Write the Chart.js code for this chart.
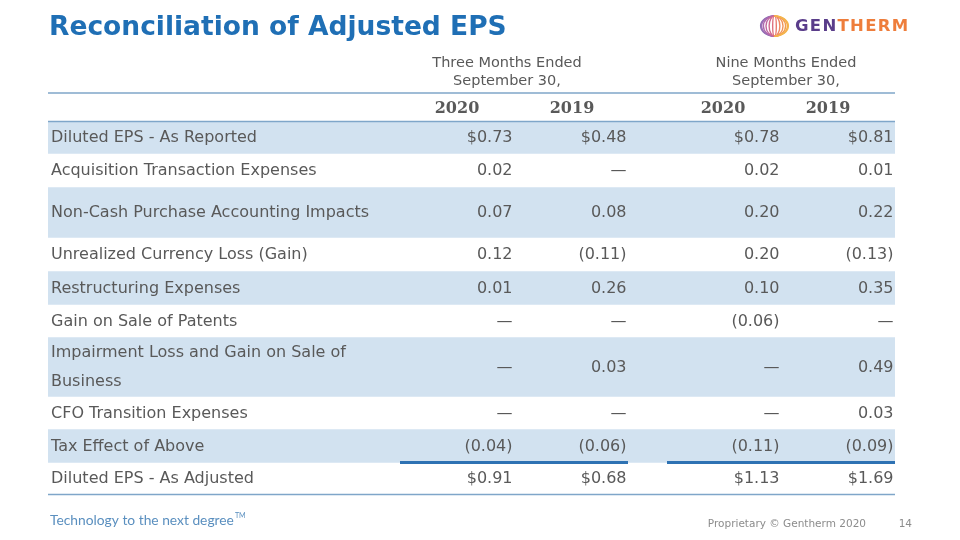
<!DOCTYPE html>
<html>
<head>
<meta charset="utf-8">
<title>Reconciliation of Adjusted EPS</title>
<script src="https://cdn.jsdelivr.net/npm/chart.js@4.4.1/dist/chart.umd.min.js"></script>
<style>
  html, body { margin: 0; padding: 0; background: #fff; }
  #eps { display: block; }
</style>
</head>
<body>
<canvas id="eps" width="960" height="540"></canvas>
<script>
// table rows, top to bottom
const rowLabels = [
  'Diluted EPS - As Reported',
  'Acquisition Transaction Expenses',
  'Non-Cash Purchase Accounting Impacts',
  'Unrealized Currency Loss (Gain)',
  'Restructuring Expenses',
  'Gain on Sale of Patents',
  ['Impairment Loss and Gain on Sale of', 'Business'],
  'CFO Transition Expenses',
  'Tax Effect of Above',
  'Diluted EPS - As Adjusted'
];
const periodLabels = [['Three Months Ended', 'September 30,'], ['Nine Months Ended', 'September 30,']];
const yearLabels = ['2020', '2019', '2020', '2019'];

// EPS values per column, null = dash
const threeMonths2020 = [0.73, 0.02, 0.07, 0.12, 0.01, null, null, null, -0.04, 0.91];
const threeMonths2019 = [0.48, null, 0.08, -0.11, 0.26, null, 0.03, null, -0.06, 0.68];
const nineMonths2020 = [0.78, 0.02, 0.20, 0.20, 0.10, -0.06, null, null, -0.11, 1.13];
const nineMonths2019 = [0.81, 0.01, 0.22, -0.13, 0.35, null, 0.49, 0.03, -0.09, 1.69];
const dollarRows = [0, 9];
const shadedRows = [0, 2, 4, 6, 8];

// layout only: row heights, column edges and header anchors in table units
const rowHeights = [32, 34, 50, 34, 33, 33, 59, 33, 33, 32];
const colEdges = [0, 352, 466, 580, 619, 733, 847];
const periodCenters = [459, 738];
const yearCenters = [409, 524, 675, 780];

const rowTops = [];
rowHeights.reduce((acc, h) => { rowTops.push(acc); return acc + h; }, 0);
const tableDepth = rowHeights.reduce((a, b) => a + b, 0);

const valueColumns = [threeMonths2020, threeMonths2019, nineMonths2020, nineMonths2019];
const colRight = [colEdges[2], colEdges[3], colEdges[5], colEdges[6]];

const TEXT = '#595959';
const BAND = '#D2E2F0';
const RULE = '#7FA6C9';
const SANS = '"DejaVu Sans", Verdana, sans-serif';

function fmt(v, row) {
  if (v === null) return '\u2014';
  const s = Math.abs(v).toFixed(2);
  if (dollarRows.includes(row)) return '$' + s;
  return v < 0 ? '(' + s + ')' : s;
}

function hline(ctx, x0, x1, y, color, w) {
  ctx.save();
  ctx.strokeStyle = color;
  ctx.lineWidth = w;
  ctx.beginPath();
  ctx.moveTo(x0, y);
  ctx.lineTo(x1, y);
  ctx.stroke();
  ctx.restore();
}

function drawLogo(ctx) {
  const cx = 774.5, cy = 26, r = 14;
  const cols = ['#8a6fb5', '#9a6db5', '#ac6aae', '#bf67a0', '#d06a8f', '#de707f', '#e87a70',
                '#ee8663', '#f19258', '#f39e50', '#f4aa4c', '#f4b54c'];
  ctx.save();
  ctx.lineWidth = 1.4;
  for (let k = 0; k < cols.length; k++) {
    const phi = -Math.PI / 2 + (k + 0.5) * Math.PI / cols.length;
    const rx = Math.abs(Math.sin(phi)) * r;
    ctx.strokeStyle = cols[k];
    ctx.beginPath();
    if (phi < 0) ctx.ellipse(cx, cy, Math.max(rx, 0.5), r * 0.72, 0, Math.PI / 2, Math.PI * 1.5);
    else ctx.ellipse(cx, cy, Math.max(rx, 0.5), r * 0.72, 0, -Math.PI / 2, Math.PI / 2);
    ctx.stroke();
  }
  ctx.font = 'bold 16.5px ' + SANS;
  ctx.textBaseline = 'middle';
  ctx.textAlign = 'left';
  ctx.letterSpacing = '1.3px';
  ctx.fillStyle = '#5a3d8a';
  ctx.fillText('GEN', 795, 27);
  const w = ctx.measureText('GEN').width;
  ctx.fillStyle = '#ee7d3b';
  ctx.fillText('THERM', 795 + w, 27);
  ctx.restore();
}

const tablePlugin = {
  id: 'tableText',
  afterDatasetsDraw(chart) {
    const { ctx, chartArea } = chart;
    const x = chart.scales.xCol, y = chart.scales.y;
    const top = chartArea.top;
    const left = x.getPixelForValue(0), right = x.getPixelForValue(colEdges[6]);

    ctx.save();
    ctx.textBaseline = 'middle';

    // title
    ctx.fillStyle = '#1f6fb5';
    ctx.font = 'bold 26.5px ' + SANS;
    ctx.textAlign = 'left';
    ctx.fillText('Reconciliation of Adjusted EPS', 49, 28);

    drawLogo(ctx);

    // period headers
    ctx.fillStyle = TEXT;
    ctx.font = '14.5px ' + SANS;
    ctx.textAlign = 'center';
    periodLabels.forEach((lines, i) => {
      const cx = x.getPixelForValue(periodCenters[i]);
      ctx.fillText(lines[0], cx, top - 58);
      ctx.fillText(lines[1], cx, top - 40.5);
    });
    hline(ctx, left, right, top - 28.5, RULE, 1.5);

    // year headers
    ctx.font = 'bold 16px "DejaVu Serif", Georgia, serif';
    yearLabels.forEach((t, j) => {
      ctx.fillText(t, x.getPixelForValue(yearCenters[j]), top - 13);
    });

    // rows
    ctx.font = '16px ' + SANS;
    rowLabels.forEach((lab, i) => {
      const cy = y.getPixelForValue(rowTops[i] + rowHeights[i] / 2);
      ctx.textAlign = 'left';
      if (Array.isArray(lab)) {
        ctx.fillText(lab[0], left + 3, cy - 14.5);
        ctx.fillText(lab[1], left + 3, cy + 14.5);
      } else {
        ctx.fillText(lab, left + 3, cy + 0.5);
      }
      ctx.textAlign = 'right';
      valueColumns.forEach((col, j) => {
        ctx.fillText(fmt(col[i], i), x.getPixelForValue(colRight[j]) - 1.5, cy + 0.5);
      });
    });

    // rules
    hline(ctx, left, right, y.getPixelForValue(0), RULE, 1.5);
    hline(ctx, left, right, y.getPixelForValue(tableDepth), RULE, 1.5);
    const sumY = y.getPixelForValue(rowTops[9]);
    hline(ctx, x.getPixelForValue(colEdges[1]), x.getPixelForValue(colEdges[3]), sumY, '#2e72b3', 3);
    hline(ctx, x.getPixelForValue(colEdges[4]), x.getPixelForValue(colEdges[6]), sumY, '#2e72b3', 3);

    // footer
    ctx.textAlign = 'left';
    ctx.fillStyle = '#5a8fbf';
    ctx.font = '13.8px Lato, "Open Sans", sans-serif';
    ctx.fillText('Technology to the next degree', 50, 521);
    const fw = ctx.measureText('Technology to the next degree').width;
    ctx.font = '7px Lato, sans-serif';
    ctx.fillText('TM', 50 + fw + 1, 516);
    ctx.fillStyle = '#8c8c8c';
    ctx.font = '10.5px ' + SANS;
    ctx.textAlign = 'right';
    ctx.fillText('Proprietary \u00a9 Gentherm 2020', 866, 524);
    ctx.fillText('14', 912, 524);
    ctx.restore();
  }
};

const datasets = shadedRows.map(r => ({
  label: Array.isArray(rowLabels[r]) ? rowLabels[r].join(' ') : rowLabels[r],
  data: [[rowTops[r], rowTops[r] + rowHeights[r]]],
  backgroundColor: BAND,
  borderWidth: 0,
  grouped: false,
  barPercentage: 1,
  categoryPercentage: 1
}));

new Chart(document.getElementById('eps'), {
  type: 'bar',
  data: { labels: ['table'], datasets: datasets },
  options: {
    responsive: false,
    animation: false,
    layout: { padding: { left: 48, right: 65, top: 121.5, bottom: 45.5 } },
    plugins: { legend: { display: false }, tooltip: { enabled: false } },
    scales: {
      x: { display: false },
      xCol: { type: 'linear', axis: 'x', display: false, offset: false, min: 0, max: colEdges[6] },
      y: { display: false, reverse: true, min: 0, max: tableDepth }
    }
  },
  plugins: [tablePlugin]
});
</script>
</body>
</html>
